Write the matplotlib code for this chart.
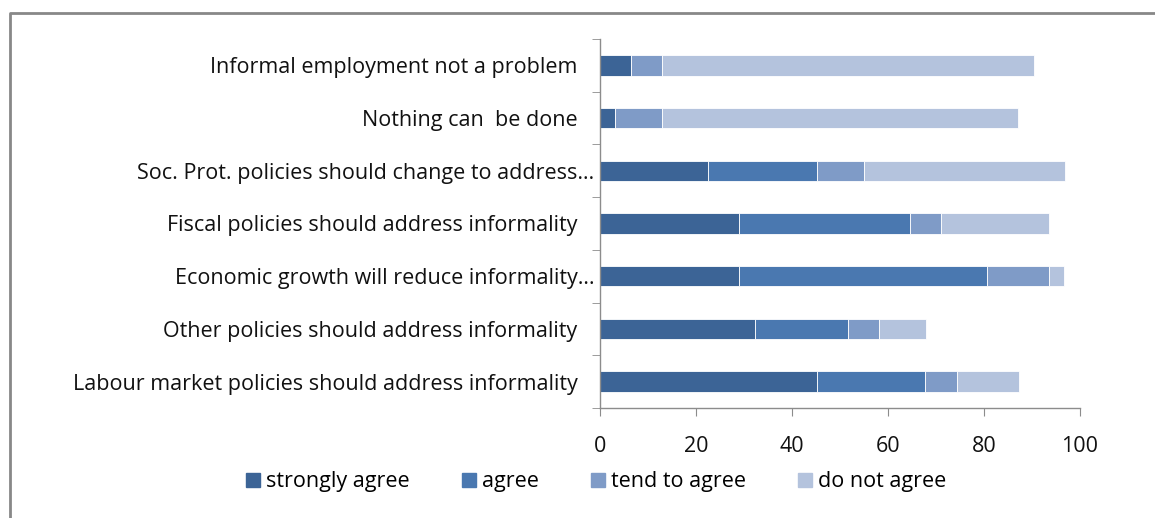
import numpy as np
import matplotlib
matplotlib.use("Agg")
import matplotlib.pyplot as plt
from matplotlib.lines import Line2D

# survey statements, bottom to top, share of respondents (%)
statements = [
    "Labour market policies should address informality   ",
    "Other policies should address informality   ",
    "Economic growth will reduce informality\u2026",
    "Fiscal policies should address informality   ",
    "Soc. Prot. policies should change to address\u2026",
    "Nothing can  be done   ",
    "Informal employment not a problem   ",
]
strongly_agree = [45.2, 32.3, 29.0, 29.0, 22.6, 3.2, 6.5]
agree = [22.6, 19.4, 51.6, 35.5, 22.6, 0.0, 0.0]
tend_to_agree = [6.5, 6.5, 12.9, 6.5, 9.7, 9.7, 6.5]
do_not_agree = [12.9, 9.7, 3.2, 22.6, 41.9, 74.2, 77.4]

series_names = ["strongly agree", "agree", "tend to agree", "do not agree"]
series_colors = ["#3c6496", "#4a78b0", "#7f9bc7", "#b4c3dd"]

plt.rcParams["font.family"] = ["Open Sans", "DejaVu Sans"]
FS = 15.5

fig = plt.figure(figsize=(11.55, 5.18), dpi=100)
ax = fig.add_axes([600 / 1155, 110 / 518, 480 / 1155, 369 / 518])

y = np.arange(len(statements))
left = np.zeros(len(statements))
for name, vals, col in zip(series_names,
                           [strongly_agree, agree, tend_to_agree, do_not_agree],
                           series_colors):
    ax.barh(y, vals, left=left, height=0.385, color=col, edgecolor="white",
            linewidth=0.6, label=name)
    left += np.array(vals)

ax.set_xlim(0, 100)
ax.set_ylim(-0.5, len(statements) - 0.5)
ax.set_xticks(np.arange(0, 101, 20))
ax.set_yticks(y)
ax.set_yticklabels(statements)
ax.set_yticks(np.arange(-0.5, len(statements), 1), minor=True)

for s in ["top", "right"]:
    ax.spines[s].set_visible(False)
for s in ["left", "bottom"]:
    ax.spines[s].set_color("#8c8c8c")
    ax.spines[s].set_linewidth(1.0)

ax.tick_params(axis="x", direction="out", length=6, color="#8c8c8c",
               labelsize=FS, pad=14, labelcolor="#111111")
ax.tick_params(axis="y", which="major", length=0, labelsize=FS, pad=4,
               labelcolor="#111111")
ax.tick_params(axis="y", which="minor", direction="out", length=6,
               color="#8c8c8c")

# legend across the bottom
handles = [Line2D([], [], marker="s", linestyle="", markersize=9.5,
                  markerfacecolor=c, markeredgecolor=c) for c in series_colors]
fig.legend(handles, series_names, loc="center", ncol=4, frameon=False,
           bbox_to_anchor=(596 / 1155, 1 - 482 / 518), fontsize=FS,
           handlelength=0.7, handletextpad=0.25, columnspacing=2.4)

# outer frame (top and left edges)
fig.add_artist(Line2D([10 / 1155, 10 / 1155, 1.0], [0.0, 1 - 13 / 518, 1 - 13 / 518],
                      transform=fig.transFigure, color="#888888", linewidth=2))

fig.savefig("out.png", dpi=100, facecolor="white")
